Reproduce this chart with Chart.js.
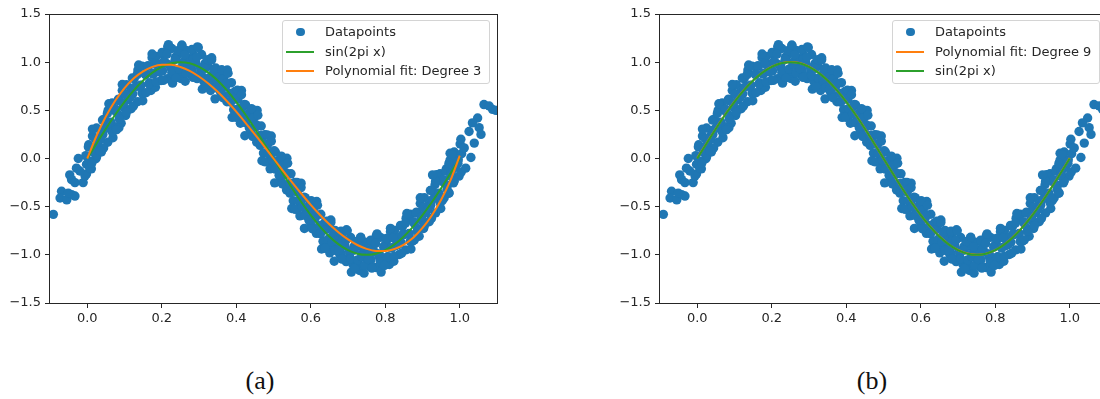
<!DOCTYPE html>
<html>
<head>
<meta charset="utf-8">
<script src="https://cdn.jsdelivr.net/npm/chart.js@4.4.1/dist/chart.umd.min.js"></script>
<style>
  html, body { margin: 0; padding: 0; background: #fff; }
  body { width: 1100px; height: 399px; overflow: hidden; position: relative; font-family: "DejaVu Sans", sans-serif; }
  .panel { position: absolute; top: 0; width: 550px; height: 345px; }
  .panel canvas { position: absolute; left: 0; top: 0; }
  .legend { position: absolute; left: 282px; top: 20px; width: 208px; height: 64px; box-sizing: border-box;
            border: 1px solid #d4d4d4; border-radius: 3px; background: rgba(255,255,255,0.8);
            font-size: 13px; color: #262626; padding-top: 1px; }
  .legend .row { position: relative; height: 19.5px; line-height: 19.5px; padding-left: 42px; white-space: nowrap; }
  .legend .line { position: absolute; left: 3px; top: 9px; width: 28px; height: 2px; }
  .legend .dot { position: absolute; left: 13px; top: 5.5px; width: 8.6px; height: 8.6px; border-radius: 50%; }
  .caption { position: absolute; top: 366px; font-family: "Liberation Serif", serif; font-size: 26px;
             color: #111; transform: translateX(-50%); }
</style>
</head>
<body>
<div class="panel" id="panelA" style="left:0px;"><canvas id="chartA" width="550" height="345"></canvas></div>
<div class="panel" id="panelB" style="left:610px;"><canvas id="chartB" width="550" height="345"></canvas></div>
<div class="caption" style="left:260px;">(a)</div>
<div class="caption" style="left:872px;">(b)</div>
<script>
// noisy samples, main band (first pass)
var bandX = [
  0.014, 0.004, 0.017, 0.007, 0.011, 0.025, 0.036, 0.028, 0.038, 0.023,
  0.056, 0.046, 0.052, 0.042, 0.055, 0.067, 0.077, 0.064, 0.073, 0.069,
  0.094, 0.084, 0.097, 0.087, 0.091, 0.105, 0.116, 0.108, 0.118, 0.103,
  0.136, 0.126, 0.132, 0.122, 0.135, 0.147, 0.157, 0.144, 0.153, 0.149,
  0.174, 0.164, 0.177, 0.167, 0.171, 0.185, 0.196, 0.188, 0.198, 0.183,
  0.216, 0.206, 0.212, 0.202, 0.215, 0.227, 0.237, 0.224, 0.233, 0.229,
  0.254, 0.244, 0.257, 0.247, 0.251, 0.265, 0.276, 0.268, 0.278, 0.263,
  0.296, 0.286, 0.292, 0.282, 0.295, 0.307, 0.317, 0.304, 0.313, 0.309,
  0.334, 0.324, 0.337, 0.327, 0.331, 0.345, 0.356, 0.348, 0.358, 0.343,
  0.376, 0.366, 0.372, 0.362, 0.375, 0.387, 0.397, 0.384, 0.393, 0.389,
  0.414, 0.404, 0.417, 0.407, 0.411, 0.425, 0.436, 0.428, 0.438, 0.423,
  0.456, 0.446, 0.452, 0.442, 0.455, 0.467, 0.477, 0.464, 0.473, 0.469,
  0.494, 0.484, 0.497, 0.487, 0.491, 0.505, 0.516, 0.508, 0.518, 0.503,
  0.536, 0.526, 0.532, 0.522, 0.535, 0.547, 0.557, 0.544, 0.553, 0.549,
  0.574, 0.564, 0.577, 0.567, 0.571, 0.585, 0.596, 0.588, 0.598, 0.583,
  0.616, 0.606, 0.612, 0.602, 0.615, 0.627, 0.637, 0.624, 0.633, 0.629,
  0.654, 0.644, 0.657, 0.647, 0.651, 0.665, 0.676, 0.668, 0.678, 0.663,
  0.696, 0.686, 0.692, 0.682, 0.695, 0.707, 0.717, 0.704, 0.713, 0.709,
  0.734, 0.724, 0.737, 0.727, 0.731, 0.745, 0.756, 0.748, 0.758, 0.743,
  0.776, 0.766, 0.772, 0.762, 0.775, 0.787, 0.797, 0.784, 0.793, 0.789,
  0.814, 0.804, 0.817, 0.807, 0.811, 0.825, 0.836, 0.828, 0.838, 0.823,
  0.856, 0.846, 0.852, 0.842, 0.855, 0.867, 0.877, 0.864, 0.873, 0.869,
  0.894, 0.884, 0.897, 0.887, 0.891, 0.905, 0.916, 0.908, 0.918, 0.903,
  0.936, 0.926, 0.932, 0.922, 0.935, 0.947, 0.957, 0.944, 0.953, 0.949,
  0.974, 0.964, 0.977, 0.967, 0.971, 0.985, 0.996, 0.988, 0.998, 0.983
];
var bandY = [
  0.233, 0.143, 0.063, -0.027, -0.107, 0.317, 0.237, 0.157, 0.067, -0.003,
  0.499, 0.409, 0.329, 0.249, 0.169, 0.576, 0.486, 0.376, 0.296, 0.216,
  0.706, 0.616, 0.536, 0.446, 0.366, 0.767, 0.687, 0.607, 0.517, 0.447,
  0.919, 0.829, 0.749, 0.669, 0.589, 0.959, 0.869, 0.759, 0.679, 0.599,
  1.046, 0.956, 0.876, 0.786, 0.706, 1.060, 0.980, 0.900, 0.810, 0.740,
  1.159, 1.069, 0.989, 0.909, 0.829, 1.142, 1.052, 0.942, 0.862, 0.782,
  1.170, 1.080, 1.000, 0.910, 0.830, 1.122, 1.042, 0.962, 0.872, 0.802,
  1.159, 1.069, 0.989, 0.909, 0.829, 1.080, 0.990, 0.880, 0.800, 0.720,
  1.046, 0.956, 0.876, 0.786, 0.706, 0.939, 0.859, 0.779, 0.689, 0.619,
  0.919, 0.829, 0.749, 0.669, 0.589, 0.787, 0.697, 0.587, 0.507, 0.427,
  0.706, 0.616, 0.536, 0.446, 0.366, 0.556, 0.476, 0.396, 0.306, 0.236,
  0.499, 0.409, 0.329, 0.249, 0.169, 0.337, 0.247, 0.137, 0.057, -0.023,
  0.233, 0.143, 0.063, -0.027, -0.107, 0.067, -0.013, -0.093, -0.183, -0.253,
  0.003, -0.087, -0.167, -0.247, -0.327, -0.159, -0.249, -0.359, -0.439, -0.519,
  -0.256, -0.346, -0.426, -0.516, -0.596, -0.406, -0.486, -0.566, -0.656, -0.726,
  -0.447, -0.537, -0.617, -0.697, -0.777, -0.579, -0.669, -0.779, -0.859, -0.939,
  -0.639, -0.729, -0.809, -0.899, -0.979, -0.746, -0.826, -0.906, -0.996, -1.066,
  -0.740, -0.830, -0.910, -0.990, -1.070, -0.819, -0.909, -1.019, -1.099, -1.179,
  -0.822, -0.912, -0.992, -1.082, -1.162, -0.870, -0.950, -1.030, -1.120, -1.190,
  -0.802, -0.892, -0.972, -1.052, -1.132, -0.819, -0.909, -1.019, -1.099, -1.179,
  -0.760, -0.850, -0.930, -1.020, -1.100, -0.746, -0.826, -0.906, -0.996, -1.066,
  -0.619, -0.709, -0.789, -0.869, -0.949, -0.579, -0.669, -0.779, -0.859, -0.939,
  -0.467, -0.557, -0.637, -0.727, -0.807, -0.406, -0.486, -0.566, -0.656, -0.726,
  -0.236, -0.326, -0.406, -0.486, -0.566, -0.159, -0.249, -0.359, -0.439, -0.519,
  -0.017, -0.107, -0.187, -0.277, -0.357, 0.067, -0.013, -0.093, -0.183, -0.253
];
// main band (second pass, in between)
var band2X = [
  0.003, -0.004, 0.006, -0.002, 0.014, 0.022, 0.017, 0.025, 0.041, 0.045, 0.035, 0.044,
  0.058, 0.054, 0.064, 0.067, 0.083, 0.076, 0.086, 0.078, 0.094, 0.102, 0.097, 0.105,
  0.121, 0.125, 0.115, 0.124, 0.138, 0.134, 0.144, 0.147, 0.163, 0.156, 0.166, 0.158,
  0.174, 0.182, 0.177, 0.185, 0.201, 0.205, 0.195, 0.204, 0.218, 0.214, 0.224, 0.227,
  0.243, 0.236, 0.246, 0.238, 0.254, 0.262, 0.257, 0.265, 0.281, 0.285, 0.275, 0.284,
  0.298, 0.294, 0.304, 0.307, 0.323, 0.316, 0.326, 0.318, 0.334, 0.342, 0.337, 0.345,
  0.361, 0.365, 0.355, 0.364, 0.378, 0.374, 0.384, 0.387, 0.403, 0.396, 0.406, 0.398,
  0.414, 0.422, 0.417, 0.425, 0.441, 0.445, 0.435, 0.444, 0.458, 0.454, 0.464, 0.467,
  0.483, 0.476, 0.486, 0.478, 0.494, 0.502, 0.497, 0.505, 0.521, 0.525, 0.515, 0.524,
  0.538, 0.534, 0.544, 0.547, 0.563, 0.556, 0.566, 0.558, 0.574, 0.582, 0.577, 0.585,
  0.601, 0.605, 0.595, 0.604, 0.618, 0.614, 0.624, 0.627, 0.643, 0.636, 0.646, 0.638,
  0.654, 0.662, 0.657, 0.665, 0.681, 0.685, 0.675, 0.684, 0.698, 0.694, 0.704, 0.707,
  0.723, 0.716, 0.726, 0.718, 0.734, 0.742, 0.737, 0.745, 0.761, 0.765, 0.755, 0.764,
  0.778, 0.774, 0.784, 0.787, 0.803, 0.796, 0.806, 0.798, 0.814, 0.822, 0.817, 0.825,
  0.841, 0.845, 0.835, 0.844, 0.858, 0.854, 0.864, 0.867, 0.883, 0.876, 0.886, 0.878,
  0.894, 0.902, 0.897, 0.905, 0.921, 0.925, 0.915, 0.924, 0.938, 0.934, 0.944, 0.947,
  0.963, 0.956, 0.966, 0.958, 0.974, 0.982, 0.977, 0.985, 1.001, 1.005, 0.995, 1.004
];
var band2Y = [
  0.120, 0.030, -0.070, -0.160, 0.305, 0.205, 0.105, 0.015, 0.399, 0.299, 0.199, 0.109,
  0.568, 0.468, 0.358, 0.278, 0.602, 0.512, 0.412, 0.322, 0.768, 0.668, 0.568, 0.478,
  0.835, 0.735, 0.635, 0.545, 0.971, 0.871, 0.761, 0.681, 0.964, 0.874, 0.774, 0.684,
  1.085, 0.985, 0.885, 0.795, 1.101, 1.001, 0.901, 0.811, 1.182, 1.082, 0.972, 0.892,
  1.118, 1.028, 0.928, 0.838, 1.178, 1.078, 0.978, 0.888, 1.132, 1.032, 0.932, 0.842,
  1.151, 1.051, 0.941, 0.861, 1.025, 0.935, 0.835, 0.745, 1.024, 0.924, 0.824, 0.734,
  0.921, 0.821, 0.721, 0.631, 0.885, 0.785, 0.675, 0.595, 0.708, 0.618, 0.518, 0.428,
  0.662, 0.562, 0.462, 0.372, 0.518, 0.418, 0.318, 0.228, 0.449, 0.349, 0.239, 0.159,
  0.245, 0.155, 0.055, -0.035, 0.180, 0.080, -0.020, -0.110, 0.025, -0.075, -0.175, -0.265,
  -0.049, -0.149, -0.259, -0.339, -0.248, -0.338, -0.438, -0.528, -0.302, -0.402, -0.502, -0.592,
  -0.438, -0.538, -0.638, -0.728, -0.485, -0.585, -0.695, -0.775, -0.651, -0.741, -0.841, -0.931,
  -0.664, -0.764, -0.864, -0.954, -0.755, -0.855, -0.955, -1.045, -0.751, -0.851, -0.961, -1.041,
  -0.862, -0.952, -1.052, -1.142, -0.818, -0.918, -1.018, -1.108, -0.848, -0.948, -1.048, -1.138,
  -0.782, -0.882, -0.992, -1.072, -0.831, -0.921, -1.021, -1.111, -0.725, -0.825, -0.925, -1.015,
  -0.694, -0.794, -0.894, -0.984, -0.571, -0.671, -0.781, -0.861, -0.565, -0.655, -0.755, -0.845,
  -0.408, -0.508, -0.608, -0.698, -0.332, -0.432, -0.532, -0.622, -0.168, -0.268, -0.378, -0.458,
  -0.129, -0.219, -0.319, -0.409, 0.055, -0.045, -0.145, -0.235, 0.150, 0.050, -0.050, -0.140
];
// sparse samples at both ends
var tailX = [
  -0.091, -0.069, -0.073, -0.055, -0.042, -0.033, -0.051, -0.047, -0.042, -0.033,
  -0.011, -0.006, -0.020, -0.029, -0.024, -0.002, 0.007, 0.012, 0.025, 0.034,
  0.085, 0.079, 1.065, 1.088, 1.079, 1.048, 1.034, 1.052, 1.057, 1.025,
  1.039, 1.003, 1.012, 1.030, 1.016, 0.980, 0.971, 0.994, 0.976, 0.971,
  0.935, 0.927, 1.097
];
var tailY = [
  -0.58, -0.34, -0.41, -0.43, -0.375, -0.39, -0.36, -0.17, -0.22, -0.25,
  -0.25, -0.18, -0.13, -0.10, 0.00, -0.06, -0.10, -0.05, 0.04, 0.08,
  0.32, 0.30, 0.56, 0.51, 0.545, 0.42, 0.37, 0.32, 0.25, 0.28,
  0.16, 0.20, 0.11, 0.01, -0.10, 0.04, -0.05, -0.03, -0.17, -0.36,
  -0.24, -0.17, 0.50
];

var curveX = [0, 0.025, 0.05, 0.075, 0.1, 0.125, 0.15, 0.175, 0.2, 0.225, 0.25, 0.275, 0.3, 0.325, 0.35, 0.375, 0.4,
  0.425, 0.45, 0.475, 0.5, 0.525, 0.55, 0.575, 0.6, 0.625, 0.65, 0.675, 0.7, 0.725, 0.75, 0.775, 0.8, 0.825, 0.85,
  0.875, 0.9, 0.925, 0.95, 0.975, 1.0];
var sinY = [0, 0.156, 0.309, 0.454, 0.588, 0.707, 0.809, 0.891, 0.951, 0.988, 1.0, 0.988, 0.951, 0.891, 0.809, 0.707, 0.588,
  0.454, 0.309, 0.156, 0, -0.156, -0.309, -0.454, -0.588, -0.707, -0.809, -0.891, -0.951, -0.988, -1.0, -0.988, -0.951,
  -0.891, -0.809, -0.707, -0.588, -0.454, -0.309, -0.156, 0];
var fit3Y = [0, 0.236, 0.435, 0.599, 0.731, 0.833, 0.905, 0.951, 0.973, 0.972, 0.950, 0.910, 0.851, 0.778, 0.692, 0.594, 0.487,
  0.371, 0.250, 0.127, 0, -0.125, -0.247, -0.366, -0.481, -0.586, -0.683, -0.768, -0.840, -0.898, -0.938, -0.959, -0.960,
  -0.939, -0.893, -0.822, -0.721, -0.591, -0.429, -0.228, 0.03];
var fit9Y = [0.005, 0.158, 0.312, 0.457, 0.590, 0.709, 0.811, 0.893, 0.953, 0.990, 1.003, 0.991, 0.953, 0.892, 0.810, 0.708, 0.589,
  0.455, 0.310, 0.157, 0.001, -0.155, -0.308, -0.453, -0.587, -0.706, -0.808, -0.890, -0.950, -0.987, -0.999, -0.988, -0.951,
  -0.890, -0.807, -0.705, -0.586, -0.452, -0.307, -0.153, 0.004];

var xTicks = [0, 0.2, 0.4, 0.6, 0.8, 1.0];
var yTicks = [-1.5, -1.0, -0.5, 0, 0.5, 1.0, 1.5];

var BLUE = '#1f77b4', GREEN = '#2ca02c', ORANGE = '#ff7f0e', INK = '#262626';

var allX = bandX.concat(band2X, tailX);
var allY = bandY.concat(band2Y, tailY);
var points = allX.map(function (x, i) { return { x: x, y: allY[i] }; });

function fmt(v) {
  return (v < 0 ? '\u2212' : '') + Math.abs(v).toFixed(1);
}

var framePlugin = {
  id: 'frame',
  afterDraw: function (chart) {
    var a = chart.chartArea, ctx = chart.ctx;
    ctx.save();
    ctx.strokeStyle = INK;
    ctx.lineWidth = 1;
    ctx.strokeRect(Math.round(a.left) - 0.5, Math.round(a.top) + 0.5,
      Math.round(a.right) - Math.round(a.left) + 1, Math.round(a.bottom) - Math.round(a.top));
    ctx.restore();
  }
};

function addLegend(panelId, entries) {
  var box = document.createElement('div');
  box.className = 'legend';
  entries.forEach(function (e) {
    var row = document.createElement('div');
    row.className = 'row';
    var mark = document.createElement('span');
    mark.className = e.dot ? 'dot' : 'line';
    mark.style.background = e.color;
    row.appendChild(mark);
    row.appendChild(document.createTextNode(e.label));
    box.appendChild(row);
  });
  document.getElementById(panelId).appendChild(box);
}

function buildPanel(canvasId, panelId, lines) {
  var datasets = [{
    label: 'Datapoints',
    data: points,
    backgroundColor: BLUE,
    borderWidth: 0,
    pointRadius: 4.7,
    clip: 0,
    order: 3
  }];
  lines.forEach(function (l) {
    datasets.push({
      label: l.label,
      data: curveX.map(function (x, k) { return { x: x, y: l.values[k] }; }),
      showLine: true,
      borderColor: l.color,
      borderWidth: 2,
      pointRadius: 0,
      fill: false,
      cubicInterpolationMode: 'monotone',
      clip: 0,
      order: l.order
    });
  });

  new Chart(document.getElementById(canvasId), {
    type: 'scatter',
    data: { datasets: datasets },
    options: {
      responsive: false,
      animation: false,
      devicePixelRatio: 1,
      events: [],
      layout: { padding: { left: 0, top: 14, right: 53, bottom: 0 } },
      plugins: { legend: { display: false }, tooltip: { enabled: false } },
      scales: {
        x: {
          type: 'linear', min: -0.1, max: 1.1,
          afterBuildTicks: function (s) { s.ticks = xTicks.map(function (v) { return { value: v }; }); },
          afterFit: function (s) { s.height = 42; },
          grid: { drawOnChartArea: false, drawTicks: true, tickLength: 5, color: INK, lineWidth: 1 },
          border: { display: false },
          ticks: { font: { family: 'DejaVu Sans', size: 13 }, color: INK, padding: 3, maxRotation: 0, callback: fmt }
        },
        y: {
          type: 'linear', min: -1.5, max: 1.5,
          afterBuildTicks: function (s) { s.ticks = yTicks.map(function (v) { return { value: v }; }); },
          afterFit: function (s) { s.width = 50; },
          grid: { drawOnChartArea: false, drawTicks: true, tickLength: 5, color: INK, lineWidth: 1 },
          border: { display: false },
          ticks: { font: { family: 'DejaVu Sans', size: 13 }, color: INK, padding: 4, callback: fmt }
        }
      }
    },
    plugins: [framePlugin]
  });

  addLegend(panelId, [{ label: 'Datapoints', color: BLUE, dot: true }].concat(lines));
}

buildPanel('chartA', 'panelA', [
  { label: 'sin(2pi x)', values: sinY, color: GREEN, order: 2 },
  { label: 'Polynomial fit: Degree 3', values: fit3Y, color: ORANGE, order: 1 }
]);
buildPanel('chartB', 'panelB', [
  { label: 'Polynomial fit: Degree 9', values: fit9Y, color: ORANGE, order: 2 },
  { label: 'sin(2pi x)', values: sinY, color: GREEN, order: 1 }
]);
</script>
</body>
</html>
